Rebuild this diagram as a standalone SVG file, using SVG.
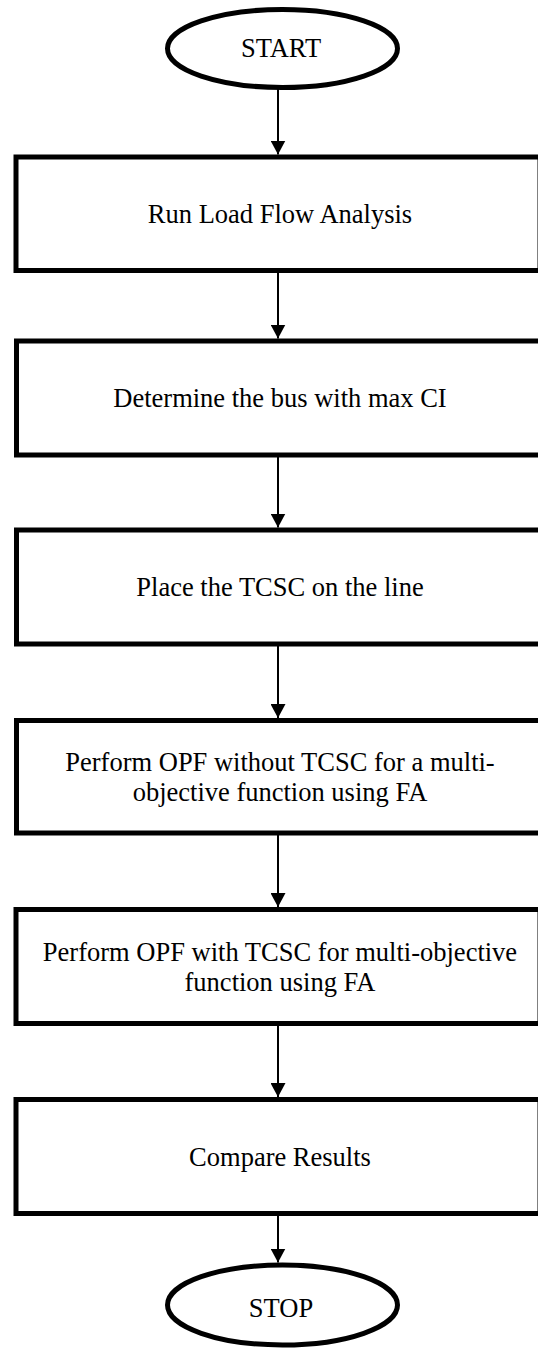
<svg xmlns="http://www.w3.org/2000/svg" width="538" height="1348" viewBox="0 0 538 1348">
  <style>
    .term { fill: #ffffff; stroke: #000000; stroke-width: 5; }
    .step { fill: #ffffff; stroke: #000000; stroke-width: 5; }
    .label { font-family: "Liberation Serif", "Times New Roman", serif; font-size: 26.5px; fill: #000000; text-anchor: middle; }
    .flow { stroke: #000000; stroke-width: 2; fill: none; marker-end: url(#arrow); }
  </style>
  <defs>
    <marker id="arrow" viewBox="0 0 14 15" refX="14" refY="7.5" markerWidth="14" markerHeight="15" markerUnits="userSpaceOnUse" orient="auto">
      <path d="M0,0 L14,7.5 L0,15 z" fill="#000000"/>
    </marker>
  </defs>
  <rect width="538" height="1348" fill="#ffffff"/>

  <g id="connectors">
    <line class="flow" x1="278" y1="88" x2="278" y2="154.5"/>
    <line class="flow" x1="278" y1="273" x2="278" y2="338.5"/>
    <line class="flow" x1="278" y1="457" x2="278" y2="527.5"/>
    <line class="flow" x1="278" y1="646" x2="278" y2="718"/>
    <line class="flow" x1="278" y1="835" x2="278" y2="907"/>
    <line class="flow" x1="278" y1="1025" x2="278" y2="1097"/>
    <line class="flow" x1="278" y1="1215" x2="278" y2="1262.5"/>
  </g>

  <g id="start">
    <ellipse class="term" cx="282.5" cy="48.5" rx="115" ry="39"/>
    <text class="label" x="281" y="56.5">START</text>
  </g>

  <g id="load-flow">
    <rect class="step" x="16" y="157" width="524" height="113.5"/>
    <text class="label" x="280" y="222.5">Run Load Flow Analysis</text>
  </g>

  <g id="max-ci">
    <rect class="step" x="16.5" y="341" width="524" height="114"/>
    <text class="label" x="280" y="407">Determine the bus with max CI</text>
  </g>

  <g id="place-tcsc">
    <rect class="step" x="16.5" y="530" width="524" height="114"/>
    <text class="label" x="280" y="596">Place the TCSC on the line</text>
  </g>

  <g id="opf-without">
    <rect class="step" x="16.5" y="720.5" width="524" height="112.5"/>
    <text class="label" x="280" y="770.5">Perform OPF without TCSC for a multi-</text>
    <text class="label" x="280" y="800.5">objective function using FA</text>
  </g>

  <g id="opf-with">
    <rect class="step" x="16" y="909.5" width="524" height="114"/>
    <text class="label" x="280" y="960.5">Perform OPF with TCSC for multi-objective</text>
    <text class="label" x="280" y="990.5">function using FA</text>
  </g>

  <g id="compare">
    <rect class="step" x="16" y="1099.5" width="524" height="114"/>
    <text class="label" x="280" y="1165.5">Compare Results</text>
  </g>

  <g id="stop">
    <ellipse class="term" cx="282.5" cy="1305" rx="115" ry="40"/>
    <text class="label" x="281" y="1317">STOP</text>
  </g>
</svg>
